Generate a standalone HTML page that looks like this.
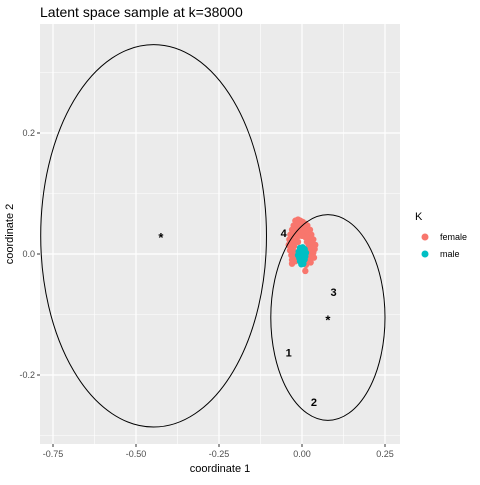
<!DOCTYPE html>
<html><head><meta charset="utf-8"><style>
body{margin:0;background:#fff;font-family:"Liberation Sans",sans-serif}
</style></head><body>
<svg id="c" width="480" height="480" xmlns="http://www.w3.org/2000/svg" font-family="Liberation Sans, sans-serif">
<text x="40" y="17" font-size="14" fill="#000">Latent space sample at k=38000</text>
<rect x="40" y="24" width="360" height="420" fill="#ebebeb"/>
<g id="grid"></g>
<g id="marks"></g>
<g id="axes" font-size="9" fill="#4d4d4d"></g>
<text x="220" y="472" font-size="11" text-anchor="middle">coordinate 1</text>
<text transform="translate(13,234) rotate(-90)" font-size="11" text-anchor="middle">coordinate 2</text>
<g>
<text x="415" y="220" font-size="11">K</text>
<circle cx="425" cy="237" r="3.5" fill="#F8766D"/>
<text x="440" y="240" font-size="9">female</text>
<circle cx="425" cy="254" r="3.5" fill="#00BFC4"/>
<text x="440" y="257" font-size="9">male</text>
</g>
</svg>
<script>
const xTicks=[-0.75,-0.5,-0.25,0,0.25];
const xTickLabels=["-0.75","-0.50","-0.25","0.00","0.25"];
const yTicks=[0.2,0,-0.2];
const yTickLabels=["0.2","0.0","-0.2"];
const ellCx=[-0.447,0.078];
const ellCy=[0.03,-0.105];
const ellRx=[0.34,0.172];
const ellRy=[0.316,0.17];
const compLabels=["4","3","1","2"];
const compLabX=[-0.055,0.095,-0.04,0.036];
const compLabY=[0.035,-0.063,-0.163,-0.245];
const femaleX=[-0.02,-0.012,-0.005,0.002,0.01,0.016,-0.025,-0.016,-0.008,0.0,0.008,0.016,0.024,-0.03,-0.022,-0.014,-0.006,0.004,0.012,0.02,0.028,-0.035,-0.027,-0.018,-0.01,0.0,0.01,0.018,0.026,0.034,-0.038,-0.03,-0.02,-0.012,0.015,0.024,0.032,0.04,-0.04,-0.032,-0.024,0.02,0.03,0.038,-0.036,-0.026,0.022,0.034,-0.032,-0.022,0.018,0.028,0.036,-0.03,-0.02,0.02,-0.03,0.012,0.026,0.01];
const femaleY=[0.055,0.057,0.055,0.053,0.05,0.047,0.047,0.05,0.048,0.046,0.044,0.042,0.04,0.04,0.042,0.04,0.038,0.037,0.036,0.035,0.032,0.032,0.033,0.032,0.03,0.03,0.028,0.027,0.025,0.024,0.024,0.024,0.022,0.02,0.02,0.018,0.017,0.015,0.015,0.015,0.013,0.012,0.01,0.008,0.006,0.005,0.004,0.002,-0.002,-0.003,-0.005,-0.004,-0.006,-0.01,-0.012,-0.012,-0.016,-0.018,-0.014,-0.028];
const maleX=[-0.006,0.002,0.008,-0.01,-0.002,0.006,0.012,-0.012,-0.004,0.004,0.01,-0.008,0.0,0.008,-0.006,0.002,-0.002,0.004];
const maleY=[0.01,0.011,0.008,0.004,0.005,0.004,0.002,-0.002,-0.001,-0.002,-0.004,-0.007,-0.007,-0.009,-0.012,-0.012,-0.017,-0.016];
const centerX=[-0.425,0.078];
const centerY=[0.03,-0.107];

const NS="http://www.w3.org/2000/svg";
const X=v=>302+v*332, Y=v=>254-v*605;
const grid=document.getElementById('grid'),marks=document.getElementById('marks'),axes=document.getElementById('axes');
function mk(tag,attrs,parent){const e=document.createElementNS(NS,tag);for(const k in attrs)e.setAttribute(k,attrs[k]);parent.appendChild(e);return e;}
for(let i=0;i<xTicks.length;i++){const m=xTicks[i]+0.125;if(X(m)<400){const l=mk('line',{x1:X(m),x2:X(m),y1:24,y2:444,stroke:'#fff','stroke-width':0.6},grid);

}}
{const l=mk('line',{x1:X(-0.875),x2:X(-0.875),y1:24,y2:444,stroke:'#fff','stroke-width':0.6},grid);

}
[0.3,0.1,-0.1,-0.3].forEach(m=>{const l=mk('line',{x1:40,x2:400,y1:Y(m),y2:Y(m),stroke:'#fff','stroke-width':0.6},grid);

});
xTicks.forEach((t,i)=>{const l=mk('line',{x1:X(t),x2:X(t),y1:24,y2:444,stroke:'#fff','stroke-width':1.2},grid);


const tk=mk('line',{x1:X(t),x2:X(t),y1:444,y2:447,stroke:'#333'},axes);


const tx=mk('text',{x:X(t),y:457,'text-anchor':'middle'},axes);tx.textContent=xTickLabels[i];

});
yTicks.forEach((t,i)=>{const l=mk('line',{x1:40,x2:400,y1:Y(t),y2:Y(t),stroke:'#fff','stroke-width':1.2},grid);


const tk=mk('line',{x1:37,x2:40,y1:Y(t),y2:Y(t),stroke:'#333'},axes);


const tx=mk('text',{x:35,y:Y(t)+3,'text-anchor':'end'},axes);tx.textContent=yTickLabels[i];

});
femaleX.forEach((v,i)=>{const c=mk('circle',{cx:X(v),cy:Y(femaleY[i]),r:3.2,fill:'#F8766D'},marks);

});
maleX.forEach((v,i)=>{const c=mk('circle',{cx:X(v),cy:Y(maleY[i]),r:3.2,fill:'#00BFC4'},marks);

});
ellCx.forEach((v,i)=>{const e=mk('ellipse',{cx:X(v),cy:Y(ellCy[i]),rx:ellRx[i]*332,ry:ellRy[i]*605,fill:'none',stroke:'#000','stroke-width':1},marks);

});
centerX.forEach((v,i)=>{const t=mk('text',{x:X(v),y:Y(centerY[i])+6,'text-anchor':'middle','font-size':13,'font-weight':'bold'},marks);t.textContent='*';

});
compLabels.forEach((s,i)=>{const t=mk('text',{x:X(compLabX[i]),y:Y(compLabY[i])+4,'text-anchor':'middle','font-size':11,'font-weight':'bold'},marks);t.textContent=s;

});
</script>
</body></html>
